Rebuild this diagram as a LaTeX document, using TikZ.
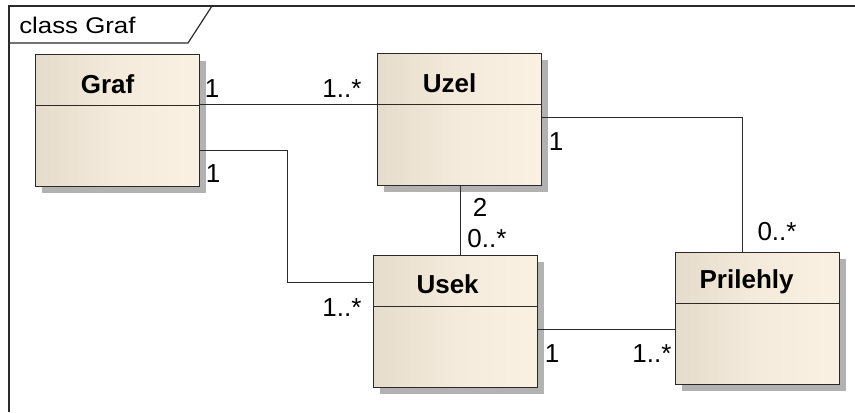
\documentclass[tikz,border=0pt]{standalone}
\usepackage{fontspec}
\setmainfont{Liberation Sans}
\newfontfamily\widesans[FakeStretch=1.14]{Liberation Sans}
\usetikzlibrary{shadows,calc}
\definecolor{boxL}{HTML}{E6DCCB}
\definecolor{boxR}{HTML}{FBF1E3}
\definecolor{lineC}{HTML}{2A2A2A}
\tikzset{
  umlclass/.style={rectangle, draw=lineC, line width=0.9pt, anchor=north west,
    minimum width=123pt, minimum height=99pt, inner sep=0pt,
    left color=boxL, right color=boxR, middle color=boxR!70!boxL,
    drop shadow={shadow xshift=4.5pt, shadow yshift=-4.5pt, fill=black!30, opacity=1}},
  ctitle/.style={font=\fontsize{19.5pt}{21pt}\selectfont\bfseries, inner sep=0pt},
  mult/.style={font=\fontsize{19.5pt}{21pt}\selectfont, inner sep=0pt},
  conn/.style={draw=lineC, line width=0.75pt},
  divider/.style={draw=lineC, line width=0.75pt}
}
\begin{document}
\begin{tikzpicture}[x=0.75pt,y=-0.75pt]
\useasboundingbox (0,0) rectangle (855,412);
% frame
\draw[lineC, line width=1pt] (9,412) -- (9,6) -- (855,6);
\draw[lineC, line width=0.9pt] (9,43) -- (188,43) -- (212,6);
\node[anchor=west, font=\widesans\fontsize{17pt}{20pt}\selectfont, inner sep=0pt] (frametitle) at (19,25) {class Graf};
% classes
\node[umlclass] (graf) at (35,54) {};
\node[umlclass] (uzel) at (377,53) {};
\node[umlclass] (usek) at (373,255) {};
\node[umlclass] (pril) at (675,252) {};
\foreach \n in {graf,uzel,usek,pril}{
  \draw[divider] ($(\n.north west)+(0,51)$) -- ($(\n.north east)+(0,51)$);
}
\node[ctitle] (grafT) at ($(graf.north)+(-10,30)$) {Graf};
\node[ctitle] (uzelT) at ($(uzel.north)+(-10,30)$) {Uzel};
\node[ctitle] (usekT) at ($(usek.north)+(-8,29)$) {Usek};
\node[ctitle] (prilT) at ($(pril.north)+(-11,30)$) {Prilehly};
% connectors
\draw[conn] (graf.north east |- 0,104) -- (uzel.north west |- 0,104);
\draw[conn] (graf.north east |- 0,150) -| (287,282) -- (usek.north west |- 0,282);
\draw[conn] (uzel.south -| 460,0) -- (usek.north -| 460,0);
\draw[conn] (uzel.north east |- 0,117) -| (pril.north -| 742,0);
\draw[conn] (usek.north east |- 0,329) -- (pril.north west |- 0,329);
% multiplicities
\node[mult] (m1) at (212,89) {1};
\node[mult] (m2) at (342,89) {1..*};
\node[mult] (m3) at (213,174) {1};
\node[mult] (m4) at (342,308) {1..*};
\node[mult] (m5) at (480,207) {2};
\node[mult] (m6) at (487,239) {0..*};
\node[mult] (m7) at (556,142) {1};
\node[mult] (m8) at (777,232) {0..*};
\node[mult] (m9) at (552,354) {1};
\node[mult] (m10) at (652,354) {1..*};
\end{tikzpicture}
\end{document}
